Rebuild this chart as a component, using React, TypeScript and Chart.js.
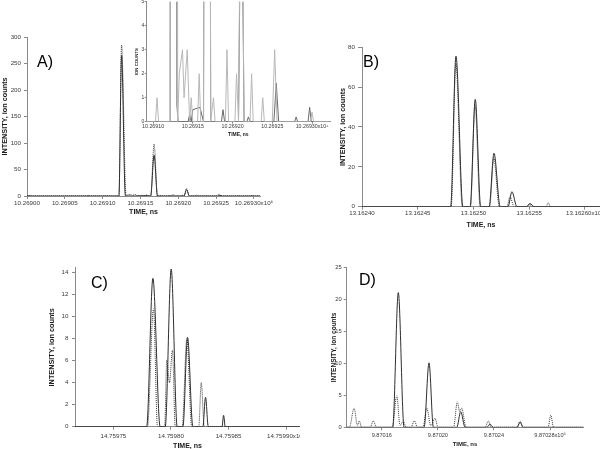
import React, { useEffect, useRef } from "react";
import { Chart, registerables } from "chart.js";

Chart.register(...registerables);

// ---------------- DATA ----------------
// Panel A (also used by the inset, which zooms into its baseline)
const aSolidTime = [10.269, 10.269003, 10.269006, 10.269079, 10.269081, 10.269083, 10.2691215, 10.269125, 10.26913, 10.2691315, 10.269144, 10.269146, 10.269148, 10.26915, 10.269159, 10.2691635, 10.269168, 10.2691725, 10.269186, 10.269188, 10.26919, 10.2692075, 10.269211, 10.2692145, 10.269218, 10.26922, 10.269222, 10.269252, 10.269255, 10.269258, 10.269278, 10.26928, 10.269282, 10.269295, 10.269297, 10.269299, 10.269322];
const aSolidCounts = [0, 0.6, 0, 0, 1, 0, 0, 265, 0.7, 0, 0, 0.3, 0, 0.5, 0.6, 0, 77, 0, 0, 0.5, 0, 0, 12, 0, 0, 0.2, 0, 0, 1.6, 0, 0, 0.2, 0, 0, 0.6, 0, 0];
const aDottedTime = [10.269, 10.269103, 10.269105, 10.269107, 10.2691215, 10.269125, 10.269131, 10.269133, 10.269137, 10.269139, 10.269143, 10.269146, 10.269148, 10.26915, 10.269156, 10.269158, 10.26916, 10.2691635, 10.269168, 10.2691725, 10.269176, 10.269178, 10.269191, 10.269193, 10.269195, 10.269203, 10.269205, 10.2692075, 10.269211, 10.2692145, 10.269222, 10.269224, 10.269226, 10.269236, 10.269238, 10.26924, 10.26925, 10.269253, 10.269256, 10.269298, 10.2693, 10.269302, 10.269322];
const aDottedCounts = [0, 0, 1, 0, 0, 285, 0, 2, 3, 1, 3, 0, 1, 0, 0, 2, 0, 0, 98, 0, 1, 0, 0, 3, 0, 0, 2, 0, 14.5, 0, 0, 2, 0, 0, 1, 0, 0, 3, 0, 0, 0.4, 0, 0];
const aTickValues = [10.269, 10.26905, 10.2691, 10.26915, 10.2692, 10.26925, 10.2693];
const aTickLabels = ["10.26900", "10.26905", "10.26910", "10.26915", "10.26920", "10.26925", "10.26930x10\u2076"];
const insetTickValues = [10.2691, 10.26915, 10.2692, 10.26925, 10.2693];
const insetTickLabels = ["10.26910", "10.26915", "10.26920", "10.26925", "10.26930x10\u2076"];

// Panel B
const bSolidTime = [13.1624, 13.1624795, 13.1624843, 13.1624905, 13.162497, 13.1625016, 13.1625065, 13.162514, 13.1625184, 13.162524, 13.162531, 13.1625345, 13.162539, 13.1625475, 13.1625507, 13.1625545, 13.1626135];
const bSolidCounts = [0, 0, 75.6, 0, 0, 53.9, 0, 0, 26.8, 0, 0, 7.5, 0, 0, 1.6, 0, 0];
const bDottedTime = [13.1624, 13.16248, 13.1624842, 13.16249, 13.1624973, 13.1625014, 13.162506, 13.1625145, 13.1625182, 13.1625232, 13.16253, 13.1625327, 13.1625365, 13.162548, 13.1625507, 13.162553, 13.162565, 13.1625671, 13.162569, 13.1626135];
const bDottedCounts = [0, 0, 72, 0, 0, 51, 0, 0, 24.5, 0, 0, 5, 0, 0, 1, 0, 0, 2, 0, 0];
const bTickValues = [13.1624, 13.16245, 13.1625, 13.16255, 13.1626];
const bTickLabels = ["13.16240", "13.16245", "13.16250", "13.16255", "13.16260x10\u2076"];

// Panel C
const cSolidTime = [14.7597167, 14.7597789, 14.7597843, 14.7597906, 14.759795, 14.7598002, 14.7598054, 14.7598104, 14.7598144, 14.759819, 14.7598277, 14.75983, 14.7598324, 14.7598443, 14.7598457, 14.7598471, 14.759912];
const cSolidCounts = [0, 0, 13.45, 0, 0, 14.3, 0, 0, 8.1, 0, 0, 2.67, 0, 0, 1.03, 0, 0];
const cDottedTime = [14.7597167, 14.7597796, 14.7597848, 14.7597883, 14.7597945, 14.7597964, 14.7597987, 14.7598013, 14.7598037, 14.7598097, 14.7598138, 14.759818, 14.7598241, 14.7598263, 14.7598289, 14.759912];
const cDottedCounts = [0, 0, 10.7, 0, 0, 6.05, 4, 6.95, 0, 0, 8.0, 0, 0, 4.0, 0, 0];
const cTickValues = [14.75975, 14.7598, 14.75985, 14.7599];
const cTickLabels = ["14.75975", "14.75980", "14.75985", "14.75990x10\u2076"];

// Panel D
const dSolidTime = [9.870135, 9.8701678, 9.8701718, 9.8701759, 9.8701902, 9.8701937, 9.8701968, 9.8702135, 9.8702163, 9.8702194, 9.870235, 9.8702372, 9.8702394, 9.8702565, 9.8702586, 9.8702608, 9.8703037];
const dSolidCounts = [0, 0, 21.1, 0, 0, 10.1, 0, 0, 2.45, 0, 0, 0.5, 0, 0, 0.8, 0, 0];
const dDottedTime = [9.870135, 9.8701369, 9.8701403, 9.8701426, 9.870144, 9.8701456, 9.8701517, 9.870154, 9.8701563, 9.8701675, 9.8701707, 9.870173, 9.8701754, 9.8701773, 9.8701809, 9.8701832, 9.8701855, 9.8701894, 9.8701921, 9.870195, 9.870198, 9.8702001, 9.8702112, 9.8702139, 9.8702155, 9.870217, 9.8702201, 9.8702337, 9.870236, 9.870238, 9.8702565, 9.8702586, 9.8702608, 9.8702786, 9.8702805, 9.8702825, 9.8703037];
const dDottedCounts = [0, 0, 3.0, 0.3, 1.0, 0, 0, 1.0, 0, 0, 4.95, 0.3, 1.0, 0, 0, 1.0, 0, 0, 3.0, 0.2, 1.4, 0, 0, 4.0, 2.5, 3.0, 0, 0, 1.0, 0, 0, 1.0, 0, 0, 1.9, 0, 0];
const dTickValues = [9.87016, 9.8702, 9.87024, 9.87028];
const dTickLabels = ["9.87016", "9.87020", "9.87024", "9.87028x10\u2076"];

// ---------------- STYLE / LAYOUT ----------------
const FONT = "'Liberation Sans', Arial, Helvetica, sans-serif";
const AXIS = "#8a8a8a";
const TICKTXT = "#3a3a3a";
const TITLETXT = "#1a1a1a";
const SOLID = "#2e2e2e";
const DOTTED = "#3a3a3a";

type Series = { xs: number[]; ys: number[]; color: string; dash?: number[]; smooth: boolean };
type Panel = {
  box: [number, number, number, number];
  area: [number, number, number, number];
  xMin: number; xMax: number; xTicks: number[]; xLabels: string[];
  yMax: number; yStep: number;
  series: Series[];
  xTitle: string; yTitle: string;
  xTitleY: number; yTitleX: number;
  xTickSize: number; yTickSize: number; xTitleSize: number; yTitleSize: number;
  xTickLen: number; xTickPad: number; yTickLen: number; yTickPad: number;
  letter?: { text: string; x: number; y: number };
};

function pts(xs: number[], ys: number[]) {
  return xs.map((x, i) => ({ x, y: ys[i] }));
}

const panels: Panel[] = [
  {
    box: [0, 0, 300, 225], area: [27, 37, 260, 196],
    xMin: 10.269, xMax: 10.269308, xTicks: aTickValues, xLabels: aTickLabels,
    yMax: 300, yStep: 50,
    series: [
      { xs: aSolidTime, ys: aSolidCounts, color: SOLID, smooth: true },
      { xs: aDottedTime, ys: aDottedCounts, color: DOTTED, dash: [1, 1], smooth: true },
    ],
    xTitle: "TIME, ns", yTitle: "INTENSITY, ion counts", xTitleY: 212, yTitleX: 4.5,
    xTickSize: 6.2, yTickSize: 6.2, xTitleSize: 7, yTitleSize: 7.3,
    xTickLen: 3, xTickPad: 0.5, yTickLen: 3, yTickPad: 3,
    letter: { text: "A)", x: 37, y: 67 },
  },
  {
    box: [300, 0, 300, 232], area: [62, 47.3, 300, 206.7],
    xMin: 13.1624, xMax: 13.1626135, xTicks: bTickValues, xLabels: bTickLabels,
    yMax: 80, yStep: 20,
    series: [
      { xs: bSolidTime, ys: bSolidCounts, color: SOLID, smooth: true },
      { xs: bDottedTime, ys: bDottedCounts, color: DOTTED, dash: [1, 1], smooth: true },
    ],
    xTitle: "TIME, ns", yTitle: "INTENSITY, ion counts", xTitleY: 225, yTitleX: 42.7,
    xTickSize: 6.1, yTickSize: 6.2, xTitleSize: 7, yTitleSize: 7.3,
    xTickLen: 3, xTickPad: 0, yTickLen: 4, yTickPad: 3,
    letter: { text: "B)", x: 63, y: 67 },
  },
  {
    box: [0, 225, 300, 224], area: [75, 42.9, 300, 201.7],
    xMin: 14.7597167, xMax: 14.759912, xTicks: cTickValues, xLabels: cTickLabels,
    yMax: 14.4, yStep: 2,
    series: [
      { xs: cSolidTime, ys: cSolidCounts, color: SOLID, smooth: true },
      { xs: cDottedTime, ys: cDottedCounts, color: DOTTED, dash: [1, 1], smooth: true },
    ],
    xTitle: "TIME, ns", yTitle: "INTENSITY, ion counts", xTitleY: 220.7, yTitleX: 51.7,
    xTickSize: 6.2, yTickSize: 6.2, xTitleSize: 7, yTitleSize: 7.3,
    xTickLen: 3, xTickPad: 3, yTickLen: 3, yTickPad: 3.5,
    letter: { text: "C)", x: 91, y: 63 },
  },
  {
    box: [300, 225, 300, 224], area: [46.7, 42.7, 283.3, 202.3],
    xMin: 9.870135, xMax: 9.8703037, xTicks: dTickValues, xLabels: dTickLabels,
    yMax: 25, yStep: 5,
    series: [
      { xs: dSolidTime, ys: dSolidCounts, color: SOLID, smooth: true },
      { xs: dDottedTime, ys: dDottedCounts, color: DOTTED, dash: [1, 1], smooth: true },
    ],
    xTitle: "TIME, ns", yTitle: "INTENSITY, ion counts", xTitleY: 219.3, yTitleX: 34,
    xTickSize: 5.6, yTickSize: 5.8, xTitleSize: 6, yTitleSize: 6.5,
    xTickLen: 3, xTickPad: 1.5, yTickLen: 3, yTickPad: 2,
    letter: { text: "D)", x: 59, y: 60 },
  },
  {
    box: [130, 0, 210, 142], area: [16.7, 1.7, 200, 121.7],
    xMin: 10.269092, xMax: 10.2693226, xTicks: insetTickValues, xLabels: insetTickLabels,
    yMax: 5, yStep: 1,
    series: [
      { xs: aDottedTime, ys: aDottedCounts, color: "#b8b8b8", smooth: false },
      { xs: aSolidTime, ys: aSolidCounts, color: "#6a6a6a", smooth: false },
    ],
    xTitle: "TIME, ns", yTitle: "ION COUNTS", xTitleY: 135, yTitleX: 6.7,
    xTickSize: 5.3, yTickSize: 5, xTitleSize: 5, yTitleSize: 4.3,
    xTickLen: 2, xTickPad: 0, yTickLen: 2, yTickPad: 0.5,
  },
];

function buildConfig(p: Panel): any {
  const [l, t, r, b] = p.area;
  const W = p.box[2];
  const H = p.box[3];
  const xLH = p.xTitleSize * 1.2;
  const yLH = p.yTitleSize * 1.2;
  const letterPlugin = {
    id: "panelLetter",
    afterDraw(chart: any) {
      if (!p.letter) return;
      const ctx = chart.ctx;
      ctx.save();
      ctx.font = `16px ${FONT}`;
      ctx.fillStyle = "#000";
      ctx.textAlign = "left";
      ctx.textBaseline = "alphabetic";
      ctx.fillText(p.letter.text, p.letter.x, p.letter.y);
      ctx.restore();
    },
  };
  return {
    type: "line",
    data: {
      datasets: p.series.map((s) => ({
        data: pts(s.xs, s.ys),
        borderColor: s.color,
        borderWidth: 1,
        borderDash: s.dash ?? [],
        pointRadius: 0,
        fill: false,
        tension: 0,
        cubicInterpolationMode: s.smooth ? "monotone" : "default",
      })),
    },
    options: {
      responsive: false,
      animation: false,
      devicePixelRatio: 1,
      parsing: true,
      normalized: true,
      layout: { padding: { left: 0, top: t, right: W - r, bottom: 0 } },
      plugins: { legend: { display: false }, tooltip: { enabled: false } },
      scales: {
        x: {
          type: "linear",
          position: "bottom",
          bounds: "data",
          min: p.xMin,
          max: p.xMax,
          afterBuildTicks: (sc: any) => {
            sc.ticks = p.xTicks.map((v) => ({ value: v }));
          },
          afterFit: (sc: any) => {
            sc.height = H - b;
            sc.paddingLeft = 0;
            sc.paddingRight = 0;
          },
          ticks: {
            autoSkip: false,
            maxRotation: 0,
            minRotation: 0,
            padding: p.xTickPad,
            color: TICKTXT,
            font: { family: FONT, size: p.xTickSize },
            callback: (_v: any, i: number) => p.xLabels[i],
          },
          grid: { drawOnChartArea: false, drawTicks: true, tickLength: p.xTickLen, color: AXIS },
          border: { display: true, color: AXIS, width: 1 },
          title: {
            display: true,
            text: p.xTitle,
            color: TITLETXT,
            font: { family: FONT, size: p.xTitleSize, weight: "bold" },
            padding: { top: 0, bottom: H - p.xTitleY - xLH / 2 },
          },
        },
        y: {
          type: "linear",
          position: "left",
          bounds: "data",
          min: 0,
          max: p.yMax,
          afterFit: (sc: any) => {
            sc.width = l;
            sc.paddingTop = 0;
            sc.paddingBottom = 0;
          },
          ticks: {
            stepSize: p.yStep,
            includeBounds: false,
            padding: p.yTickPad,
            color: TICKTXT,
            font: { family: FONT, size: p.yTickSize },
          },
          grid: { drawOnChartArea: false, drawTicks: true, tickLength: p.yTickLen, color: AXIS },
          border: { display: true, color: AXIS, width: 1 },
          title: {
            display: true,
            text: p.yTitle,
            color: TITLETXT,
            font: { family: FONT, size: p.yTitleSize, weight: "bold" },
            padding: { top: p.yTitleX - yLH / 2, bottom: 0 },
          },
        },
      },
    },
    plugins: [letterPlugin],
  };
}

function PanelCanvas({ p }: { p: Panel }) {
  const ref = useRef<HTMLCanvasElement | null>(null);
  useEffect(() => {
    if (!ref.current) return;
    const chart = new Chart(ref.current, buildConfig(p));
    return () => chart.destroy();
  }, [p]);
  const [left, top, w, h] = p.box;
  return (
    <canvas
      ref={ref}
      width={w}
      height={h}
      style={{ position: "absolute", left, top, width: w, height: h }}
    />
  );
}

export default function App() {
  return (
    <div
      style={{
        position: "absolute",
        left: 0,
        top: 0,
        width: 600,
        height: 449,
        background: "#ffffff",
        overflow: "hidden",
      }}
    >
      {panels.map((p, i) => (
        <PanelCanvas key={i} p={p} />
      ))}
    </div>
  );
}
